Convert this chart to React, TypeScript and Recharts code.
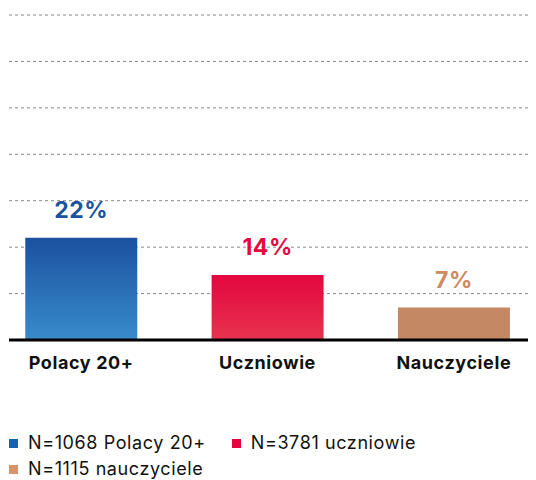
import React from 'react';
import { BarChart, Bar, XAxis, YAxis, CartesianGrid, Cell, LabelList } from 'recharts';

const categories = ['Polacy 20+', 'Uczniowie', 'Nauczyciele'];
const shares = [22, 14, 7];
const legendNames = ['N=1068 Polacy 20+', 'N=3781 uczniowie', 'N=1115 nauczyciele'];
const yTicks = [0, 10, 20, 30, 40, 50, 60, 70];

const fills = ['url(#gradBlue)', 'url(#gradRed)', '#c58865'];
const labelColors = ['#1c53a0', '#e40a40', '#cd8a63'];
const legendColors = ['#1763ae', '#e4073f', '#d4956c'];

const data = categories.map((name, i) => ({ name, value: shares[i] }));

const FONT = 'Inter, "Noto Sans", sans-serif';

export default function App() {
    return (
        <div style={{ margin: '-8px 0 0 -8px', width: 536, height: 480, position: 'relative', overflow: 'hidden', fontFamily: FONT }}>
            <BarChart
                width={536}
                height={400}
                data={data}
                margin={{ top: 15, right: 0, bottom: 20, left: 9 }}
                barCategoryGap="20%"
            >
                <defs>
                    <linearGradient id="gradBlue" x1="0" y1="0" x2="0" y2="1">
                        <stop offset="0%" stopColor="#1b51a0" />
                        <stop offset="100%" stopColor="#388bcb" />
                    </linearGradient>
                    <linearGradient id="gradRed" x1="0" y1="0" x2="0" y2="1">
                        <stop offset="0%" stopColor="#e4063e" />
                        <stop offset="100%" stopColor="#e8334f" />
                    </linearGradient>
                </defs>
                <CartesianGrid vertical={false} stroke="#888" strokeDasharray="3 3" />
                <YAxis hide domain={[0, 70]} ticks={yTicks} />
                <XAxis
                    dataKey="name"
                    height={40}
                    padding={{ left: -21, right: -11 }}
                    axisLine={{ stroke: '#000', strokeWidth: 3 }}
                    tickLine={false}
                    tickMargin={10}
                    tick={{ fill: '#111', fontSize: 18, fontWeight: 700, fontFamily: FONT, letterSpacing: 0.6 }}
                    interval={0}
                />
                <Bar dataKey="value" isAnimationActive={false}>
                    {data.map((d, i) => (
                        <Cell key={d.name} fill={fills[i]} />
                    ))}
                    <LabelList
                        dataKey="value"
                        content={(props: any) => {
                            const { x, y, width, value, index } = props;
                            return (
                                <text
                                    x={x + width / 2}
                                    y={y - 20}
                                    textAnchor="middle"
                                    fill={labelColors[index]}
                                    fontSize={23}
                                    fontWeight={700}
                                    fontFamily={FONT}
                                    letterSpacing={0.5}
                                >
                                    {value}%
                                </text>
                            );
                        }}
                    />
                </Bar>
            </BarChart>
            <div
                style={{
                    position: 'absolute',
                    top: 430,
                    left: 9,
                    width: 520,
                    display: 'flex',
                    flexWrap: 'wrap',
                    columnGap: 26,
                    fontSize: 18,
                    letterSpacing: 0.6,
                    lineHeight: '26px',
                    color: '#111',
                }}
            >
                {legendNames.map((n, i) => (
                    <div key={n} style={{ display: 'flex', alignItems: 'center' }}>
                        <span style={{ width: 9, height: 9, background: legendColors[i], marginRight: 10, display: 'inline-block' }} />
                        <span>{n}</span>
                    </div>
                ))}
            </div>
        </div>
    );
}
